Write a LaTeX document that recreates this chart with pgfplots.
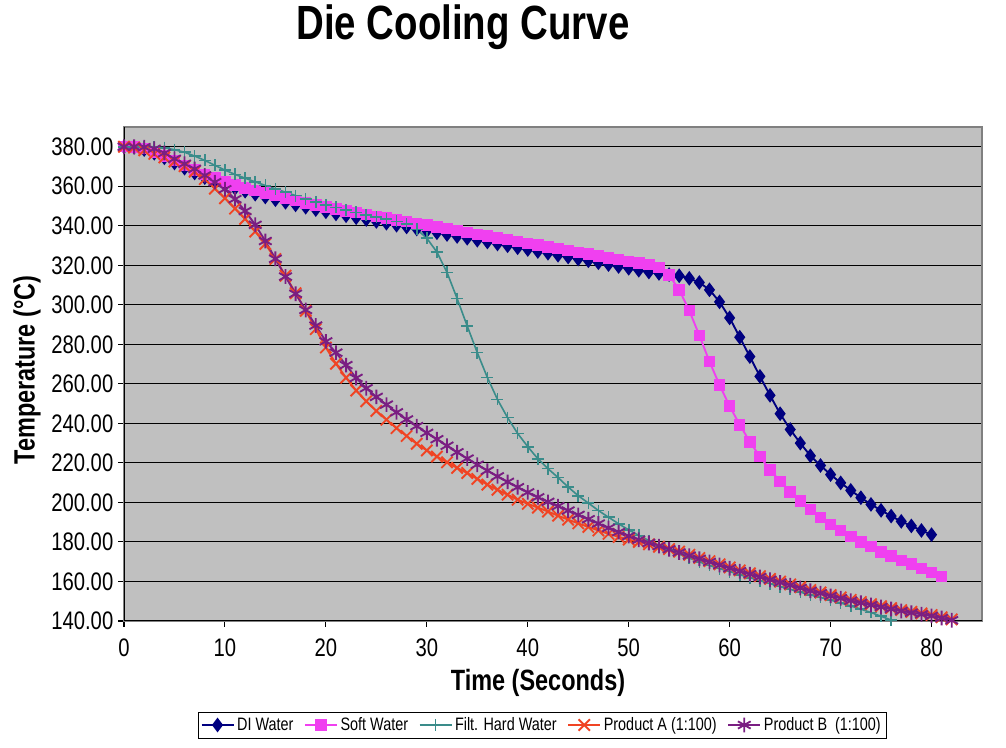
\documentclass[border=0pt]{standalone}
\usepackage{fontspec}
\setmainfont{Liberation Sans}[FakeStretch=0.8]
\usepackage{pgfplots}
\pgfplotsset{compat=1.18}

\definecolor{diblue}{RGB}{0,0,128}
\definecolor{softpink}{RGB}{240,64,240}
\definecolor{hardteal}{RGB}{58,140,138}
\definecolor{prodA}{RGB}{240,68,36}
\definecolor{prodB}{RGB}{122,30,130}
\definecolor{plotgray}{RGB}{192,192,192}

\begin{document}
\begin{tikzpicture}[x=0.75pt,y=0.75pt]
\useasboundingbox (0,0) rectangle (1006,748);
\begin{axis}[
  at={(93pt,95.25pt)}, anchor=south west,
  scale only axis, width=643.5pt, height=370.5pt,
  xmin=0, xmax=85, ymin=140, ymax=390,
  xtick={0,10,...,80}, ytick={140,160,...,380},
  ymajorgrids, major grid style={black, line width=0.7pt},
  axis background/.style={fill=plotgray},
  axis line style={draw=gray, line width=0.8pt},
  tick align=outside, tick pos=left, major tick length=4.5pt,
  tick style={black, line width=0.8pt},
  ticklabel style={font=\fontsize{19}{22}\selectfont},
  x tick label style={yshift=-5pt},
  y tick label style={/pgf/number format/.cd, fixed, fixed zerofill, precision=2, /tikz/.cd},
  /pgf/number format/assume math mode=true,
  legend columns=5,
  legend style={at={(0.4872,-0.2105)}, anchor=center, draw=black, fill=white,
    font=\fontsize{13.5}{16}\selectfont, inner sep=2pt,
    /tikz/every even column/.append style={column sep=6pt}},
  legend cell align=left,
  legend image code/.code={\draw[mark repeat=2,mark phase=2,#1] plot coordinates {(0pt,0pt) (12pt,0pt) (24pt,0pt)};},
]
% DI Water
\addplot[diblue, line width=1.4pt, mark=diamond*, mark size=4.4pt] coordinates {
(0,380.0) (1,379.7) (2,378.6) (3,376.7) (4,374.4) (5,371.8) (6,369.2) (7,366.7) (8,364.4) (9,362.4)
(10,360.6) (11,359.0) (12,357.5) (13,356.0) (14,354.6) (15,353.2) (16,351.9) (17,350.6) (18,349.4) (19,348.2)
(20,347.1) (21,346.0) (22,345.1) (23,344.1) (24,343.2) (25,342.2) (26,341.3) (27,340.3) (28,339.4) (29,338.4)
(30,337.5) (31,336.5) (32,335.6) (33,334.6) (34,333.7) (35,332.7) (36,331.8) (37,330.8) (38,329.9) (39,328.9)
(40,328.0) (41,327.0) (42,326.1) (43,325.1) (44,324.2) (45,323.2) (46,322.3) (47,321.3) (48,320.4) (49,319.4)
(50,318.5) (51,317.5) (52,316.6) (53,315.9) (54,315.3) (55,314.7) (56,313.4) (57,311.3) (58,307.6) (59,301.5)
(60,293.4) (61,283.6) (62,273.8) (63,263.8) (64,254.2) (65,244.9) (66,236.9) (67,230.0) (68,223.6) (69,218.7)
(70,214.1) (71,209.9) (72,206.1) (73,202.4) (74,199.0) (75,196.0) (76,193.1) (77,190.4) (78,188.1) (79,185.8)
(80,183.7)};
\addlegendentry{DI Water}
% Soft Water
\addplot[softpink, line width=1.4pt, mark=square*, mark size=3.6pt] coordinates {
(0,380.0) (1,379.8) (2,379.0) (3,377.4) (4,375.4) (5,373.0) (6,370.6) (7,368.2) (8,366.0) (9,364.1)
(10,362.3) (11,360.7) (12,359.2) (13,357.8) (14,356.5) (15,355.2) (16,354.0) (17,352.8) (18,351.6) (19,350.5)
(20,349.5) (21,348.5) (22,347.6) (23,346.7) (24,345.8) (25,344.8) (26,343.9) (27,343.0) (28,342.1) (29,341.2)
(30,340.3) (31,339.4) (32,338.5) (33,337.5) (34,336.6) (35,335.7) (36,334.8) (37,333.9) (38,333.0) (39,332.1)
(40,331.1) (41,330.2) (42,329.3) (43,328.4) (44,327.5) (45,326.6) (46,325.7) (47,324.8) (48,323.8) (49,322.9)
(50,322.0) (51,321.1) (52,320.4) (53,319.0) (54,315.1) (55,307.6) (56,297.1) (57,284.5) (58,271.3) (59,259.4)
(60,248.7) (61,239.3) (62,230.7) (63,223.2) (64,216.5) (65,210.7) (66,205.3) (67,200.7) (68,196.5) (69,192.4)
(70,188.9) (71,185.8) (72,182.8) (73,180.0) (74,177.6) (75,174.9) (76,172.9) (77,170.7) (78,168.8) (79,166.7)
(80,164.5) (81,162.5)};
\addlegendentry{Soft Water}
% Filt. Hard Water
\addplot[hardteal, line width=1.2pt, mark=+, mark size=4.5pt] coordinates {
(0,380.0) (1,380.0) (2,380.0) (3,380.0) (4,379.5) (5,378.5) (6,377.2) (7,375.3) (8,373.1) (9,370.6)
(10,368.2) (11,366.0) (12,364.1) (13,362.2) (14,360.4) (15,358.7) (16,357.0) (17,355.3) (18,353.6) (19,352.1)
(20,350.6) (21,349.3) (22,348.0) (23,346.8) (24,345.6) (25,344.5) (26,343.3) (27,342.2) (28,341.0) (29,338.2)
(30,333.7) (31,326.7) (32,316.4) (33,303.2) (34,289.3) (35,275.8) (36,263.2) (37,252.1) (38,242.9) (39,234.9)
(40,228.2) (41,222.1) (42,217.1) (43,212.6) (44,207.8) (45,203.4) (46,199.7) (47,195.9) (48,192.5) (49,189.2)
(50,186.1) (51,183.3) (52,180.7) (53,178.3) (54,176.0) (55,173.8) (56,171.8) (57,169.9) (58,168.1) (59,166.5)
(60,165.0) (61,163.4) (62,161.9) (63,160.4) (64,158.9) (65,157.4) (66,156.0) (67,154.6) (68,153.2) (69,151.9)
(70,150.6) (71,149.1) (72,147.6) (73,146.0) (74,144.3) (75,142.4) (76,140.5) (77,138.7)};
\addlegendentry{Filt. Hard Water}
% Product A
\addplot[prodA, line width=1.4pt, mark=x, mark size=6pt] coordinates {
(0,380.0) (1,379.6) (2,378.2) (3,376.4) (4,374.6) (5,372.5) (6,370.2) (7,367.4) (8,363.6) (9,358.8)
(10,353.9) (11,348.7) (12,343.5) (13,337.1) (14,330.8) (15,323.2) (16,314.7) (17,305.9) (18,297.0) (19,287.7)
(20,278.4) (21,270.2) (22,263.1) (23,256.6) (24,251.2) (25,246.3) (26,241.9) (27,237.6) (28,233.6) (29,229.7)
(30,226.3) (31,223.2) (32,220.3) (33,217.5) (34,214.9) (35,211.9) (36,209.0) (37,206.4) (38,203.9) (39,201.4)
(40,199.3) (41,197.4) (42,195.4) (43,193.3) (44,191.3) (45,189.4) (46,187.6) (47,185.8) (48,184.1) (49,182.6)
(50,181.2) (51,180.0) (52,178.8) (53,177.6) (54,176.4) (55,175.1) (56,173.5) (57,171.9) (58,170.3) (59,168.7)
(60,167.1) (61,165.6) (62,164.1) (63,162.7) (64,161.3) (65,159.9) (66,158.5) (67,157.1) (68,155.7) (69,154.4)
(70,153.1) (71,151.9) (72,150.7) (73,149.6) (74,148.5) (75,147.5) (76,146.5) (77,145.5) (78,144.6) (79,143.8)
(80,143.0) (81,141.9) (82,140.8)};
\addlegendentry{Product A (1:100)}
% Product B
\addplot[prodB, line width=1.4pt, mark=asterisk, mark size=5.5pt] coordinates {
(0,380.0) (1,380.0) (2,379.8) (3,379.0) (4,376.8) (5,373.9) (6,371.4) (7,368.8) (8,365.5) (9,362.1)
(10,358.5) (11,353.5) (12,347.5) (13,340.5) (14,332.3) (15,323.3) (16,314.3) (17,305.6) (18,297.4) (19,289.5)
(20,281.5) (21,275.8) (22,269.5) (23,263.0) (24,257.8) (25,253.4) (26,249.5) (27,245.6) (28,242.0) (29,238.6)
(30,235.2) (31,232.0) (32,228.7) (33,225.4) (34,222.2) (35,219.1) (36,216.1) (37,213.2) (38,210.4) (39,207.7)
(40,205.1) (41,202.6) (42,200.3) (43,198.1) (44,195.9) (45,193.7) (46,191.5) (47,189.3) (48,187.1) (49,185.0)
(50,183.0) (51,181.1) (52,179.5) (53,177.9) (54,176.3) (55,174.7) (56,173.1) (57,171.5) (58,169.9) (59,168.3)
(60,166.7) (61,165.2) (62,163.7) (63,162.3) (64,160.9) (65,159.5) (66,158.1) (67,156.7) (68,155.3) (69,154.0)
(70,152.7) (71,151.5) (72,150.3) (73,149.2) (74,148.1) (75,147.1) (76,146.1) (77,145.1) (78,144.2) (79,143.4)
(80,142.6) (81,141.5) (82,140.4)};
\addlegendentry{Product B\ \ (1:100)}
\draw[black, line width=0.8pt] (rel axis cs:0,1) -- (rel axis cs:0,0) -- (rel axis cs:1,0);
\end{axis}
\node[font=\fontsize{36}{40}\selectfont\bfseries] at (463,721) {Die Cooling Curve};
\node[font=\fontsize{22}{26}\selectfont\bfseries] at (538,65) {Time (Seconds)};
\node[font=\fontsize{22}{26}\selectfont\bfseries, rotate=90] at (27,378) {Temperature (°C)};
\end{tikzpicture}
\end{document}
